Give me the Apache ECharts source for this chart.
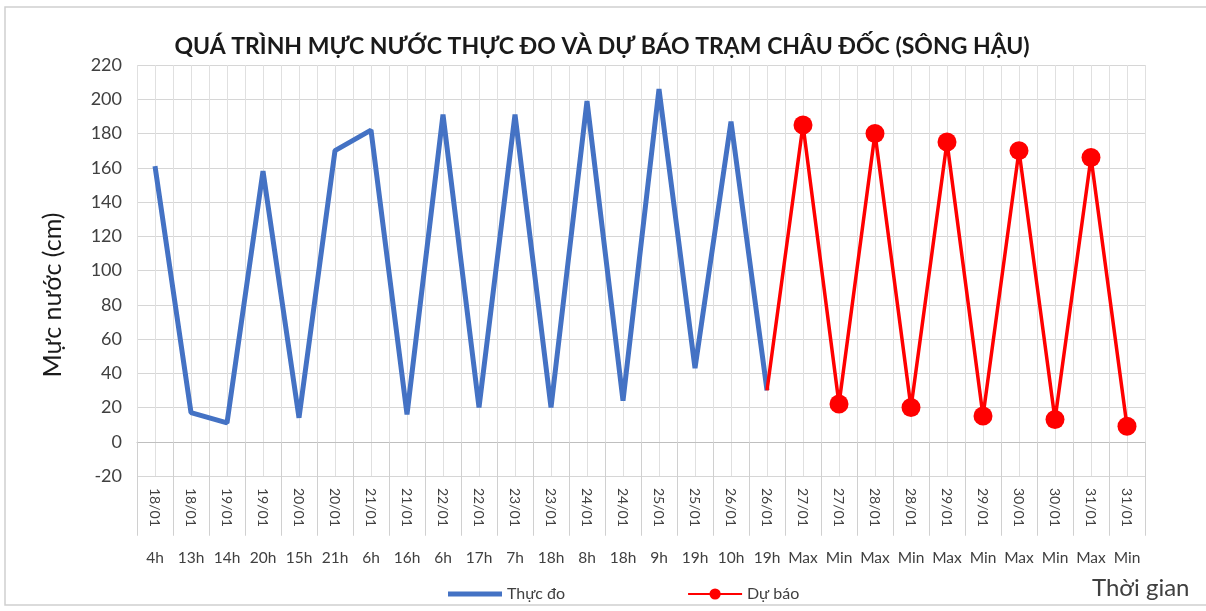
<!DOCTYPE html>
<html>
<head>
<meta charset="utf-8">
<script src="https://cdn.jsdelivr.net/npm/echarts@6/dist/echarts.min.js"></script>
<style>
html,body{margin:0;padding:0;background:#fff;}
#c{width:1206px;height:611px;}
</style>
</head>
<body>
<div id="c"></div>
<script>
const dates = ['18/01','18/01','19/01','19/01','20/01','20/01','21/01','21/01','22/01','22/01','23/01','23/01','24/01','24/01','25/01','25/01','26/01','26/01','27/01','27/01','28/01','28/01','29/01','29/01','30/01','30/01','31/01','31/01'];
const hours = ['4h','13h','14h','20h','15h','21h','6h','16h','6h','17h','7h','18h','8h','18h','9h','19h','10h','19h','Max','Min','Max','Min','Max','Min','Max','Min','Max','Min'];
const observed = [161,17,11,158,14,170,182,16,191,20,191,20,199,24,206,43,187,30,null,null,null,null,null,null,null,null,null,null];
const forecast = [null,null,null,null,null,null,null,null,null,null,null,null,null,null,null,null,null,30,185,22,180,20,175,15,170,13,166,9];
const yTicks = {min:-20, max:220, interval:20};

const FONT = 'Lato';
const forecastData = forecast.map((v,i)=> (i===17 ? {value:v, symbol:'none'} : v));

const chart = echarts.init(document.getElementById('c'));
chart.setOption({
  animation:false,
  backgroundColor:'#fff',
  textStyle:{fontFamily:FONT},
  title:{
    text:'QUÁ TRÌNH MỰC NƯỚC THỰC ĐO VÀ DỰ BÁO TRẠM CHÂU ĐỐC (SÔNG HẬU)',
    left:597, top:30, textAlign:'center',
    textStyle:{fontFamily:FONT, fontSize:23, fontWeight:'bold', color:'#1a1a1a'}
  },
  graphic:[
    {type:'rect', shape:{x:5,y:7,width:1220,height:598}, style:{fill:'none', stroke:'#d0d0d0', lineWidth:1.5}, silent:true},
    {type:'text', left:1092, top:576, style:{text:'Thời gian', font:'24px '+FONT, fill:'#404040'}},
    {type:'text', x:53, y:295, rotation:Math.PI/2, style:{text:'Mực nước (cm)', font:'25px '+FONT, fill:'#1a1a1a', align:'center', verticalAlign:'middle'}}
  ],
  legend:{
    left:443, top:581, itemGap:122, itemWidth:54, itemHeight:14,
    textStyle:{fontFamily:FONT, fontSize:16, color:'#404040'},
    data:[{name:'Thực đo', icon:'path://M0 0H54V5H0Z'}, 'Dự báo']
  },
  grid:{left:137, right:61, top:65, bottom:135, containLabel:false},
  xAxis:[
    {
      type:'category', data:dates, boundaryGap:true, position:'bottom',
      axisLine:{lineStyle:{color:'#bfbfbf'}},
      axisTick:{show:true, interval:0, length:94, lineStyle:{color:'#d0d0d0'}},
      axisLabel:{interval:0, rotate:-90, margin:12, fontFamily:FONT, fontSize:14, color:'#404040'},
      splitLine:{show:true, interval:0, lineStyle:{color:'#e0e0e0'}}
    },
    {
      type:'category', data:hours, boundaryGap:true, position:'bottom', offset:72,
      axisLine:{show:false},
      axisTick:{show:false},
      axisLabel:{interval:0, margin:2, fontFamily:FONT, fontSize:15.5, color:'#404040'},
      splitLine:{show:true, interval:0, alignWithLabel:true, lineStyle:{color:'#e0e0e0'}}
    }
  ],
  yAxis:{
    type:'value', min:yTicks.min, max:yTicks.max, interval:yTicks.interval,
    axisLine:{show:false}, axisTick:{show:false},
    axisLabel:{margin:15, fontFamily:FONT, fontSize:18, color:'#404040'},
    splitLine:{lineStyle:{color:'#d6d6d6'}}
  },
  series:[
    {
      name:'Thực đo', type:'line', data:observed, xAxisIndex:0,
      symbol:'none', connectNulls:false,
      lineStyle:{color:'#4472C4', width:5},
      itemStyle:{color:'#4472C4'}, z:3
    },
    {
      name:'Dự báo', type:'line', data:forecastData, xAxisIndex:0,
      symbol:'circle', symbolSize:19, connectNulls:false,
      lineStyle:{color:'#FF0000', width:3.5},
      itemStyle:{color:'#FF0000'}, z:4
    }
  ]
});
</script>
</body>
</html>
